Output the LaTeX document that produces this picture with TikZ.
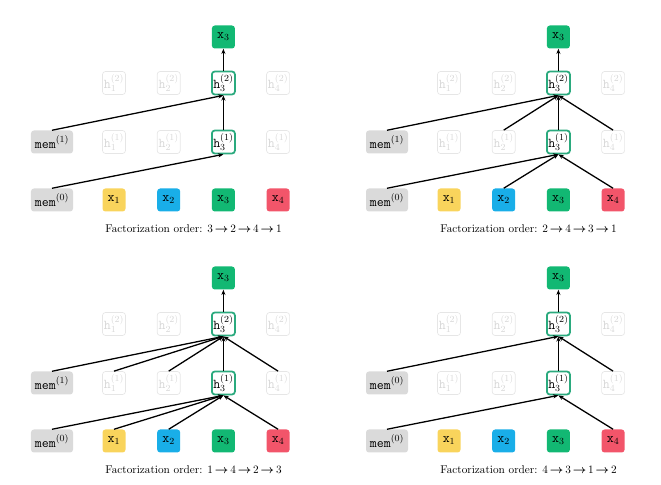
\documentclass[tikz,border=0pt]{standalone}
\usetikzlibrary{arrows.meta}

\definecolor{xyellow}{HTML}{F9D45C}
\definecolor{xblue}{HTML}{19AEE8}
\definecolor{xgreen}{HTML}{12B873}
\definecolor{xred}{HTML}{F2556A}
\definecolor{hgreen}{HTML}{2BAA7E}
\definecolor{memgray}{HTML}{DADADA}
\definecolor{fadegray}{HTML}{E6E6E6}

\newcommand{\ordarrow}{\,{\boldmath$\rightarrow$}\,}

\tikzset{
  cell/.style={minimum width=0.69cm, minimum height=0.69cm, inner sep=0pt,
    rounded corners=2.5pt, font=\fontsize{11.5}{13}\selectfont\ttfamily},
  xbox/.style={cell, draw=none},
  memnode/.style={cell, fill=memgray, minimum width=1.26cm},
  faded/.style={cell, draw=fadegray, line width=0.6pt, text=fadegray!85!gray},
  hbox/.style={cell, draw=hgreen, fill=white, line width=1.5pt},
  edge/.style={line width=1.1pt, -{Stealth[length=4.5pt,width=3.5pt]}},
  caption/.style={font=\fontsize{9.6}{11}\selectfont},
}

\begin{document}
\begin{tikzpicture}[x=0.03cm, y=-0.03cm]
    \useasboundingbox (0,0) rectangle (661,485);
    % four panels, one per factorization order
    \foreach \p/\dx/\dy/\m/\ord in {a/0/0/1/{3\ordarrow 2\ordarrow 4\ordarrow 1},
                                     b/335/0/1/{2\ordarrow 4\ordarrow 3\ordarrow 1},
                                     c/0/241/1/{1\ordarrow 4\ordarrow 2\ordarrow 3},
                                     d/335/241/0/{4\ordarrow 3\ordarrow 1\ordarrow 2}} {
      \begin{scope}[shift={(\dx,\dy)}]
        \node[memnode] (\p-mem0) at (52,200) {mem$^{(0)}$};
        \node[memnode] (\p-mem1) at (52,142) {mem$^{(\m)}$};
        \foreach \i/\c in {1/xyellow, 2/xblue, 3/xgreen, 4/xred}
          \node[xbox, fill=\c] (\p-x\i) at ({114+54.7*(\i-1)},200) {x$_\i$};
        \foreach \i in {1,2,4} {
          \node[faded] (\p-h\i1) at ({114+54.7*(\i-1)},142) {h$_\i^{(1)}$};
          \node[faded] (\p-h\i2) at ({114+54.7*(\i-1)},83) {h$_\i^{(2)}$};
        }
        \node[hbox] (\p-h31) at (223.4,142) {h$_3^{(1)}$};
        \node[hbox] (\p-h32) at (223.4,83) {h$_3^{(2)}$};
        \node[xbox, fill=xgreen] (\p-out) at (223.4,37) {x$_3$};
        \node[caption] (\p-cap) at (193.5,229) {Factorization order: \ord};

        \draw[edge] (\p-h32.north) -- (\p-out.south);
        \draw[edge] (\p-h31.north) -- (\p-h32.south);
        \draw[edge] (\p-mem1.north) -- (\p-h32.south);
        \draw[edge] (\p-mem0.north) -- (\p-h31.south);
      \end{scope}
    }
    % edges that differ between panels
    \foreach \s/\t in {b-h21/b-h32, b-h41/b-h32, b-x2/b-h31, b-x4/b-h31,
                       c-h11/c-h32, c-h21/c-h32, c-h41/c-h32,
                       c-x1/c-h31, c-x2/c-h31, c-x4/c-h31,
                       d-h41/d-h32, d-x4/d-h31}
      \draw[edge] (\s.north) -- (\t.south);
\end{tikzpicture}
\end{document}
